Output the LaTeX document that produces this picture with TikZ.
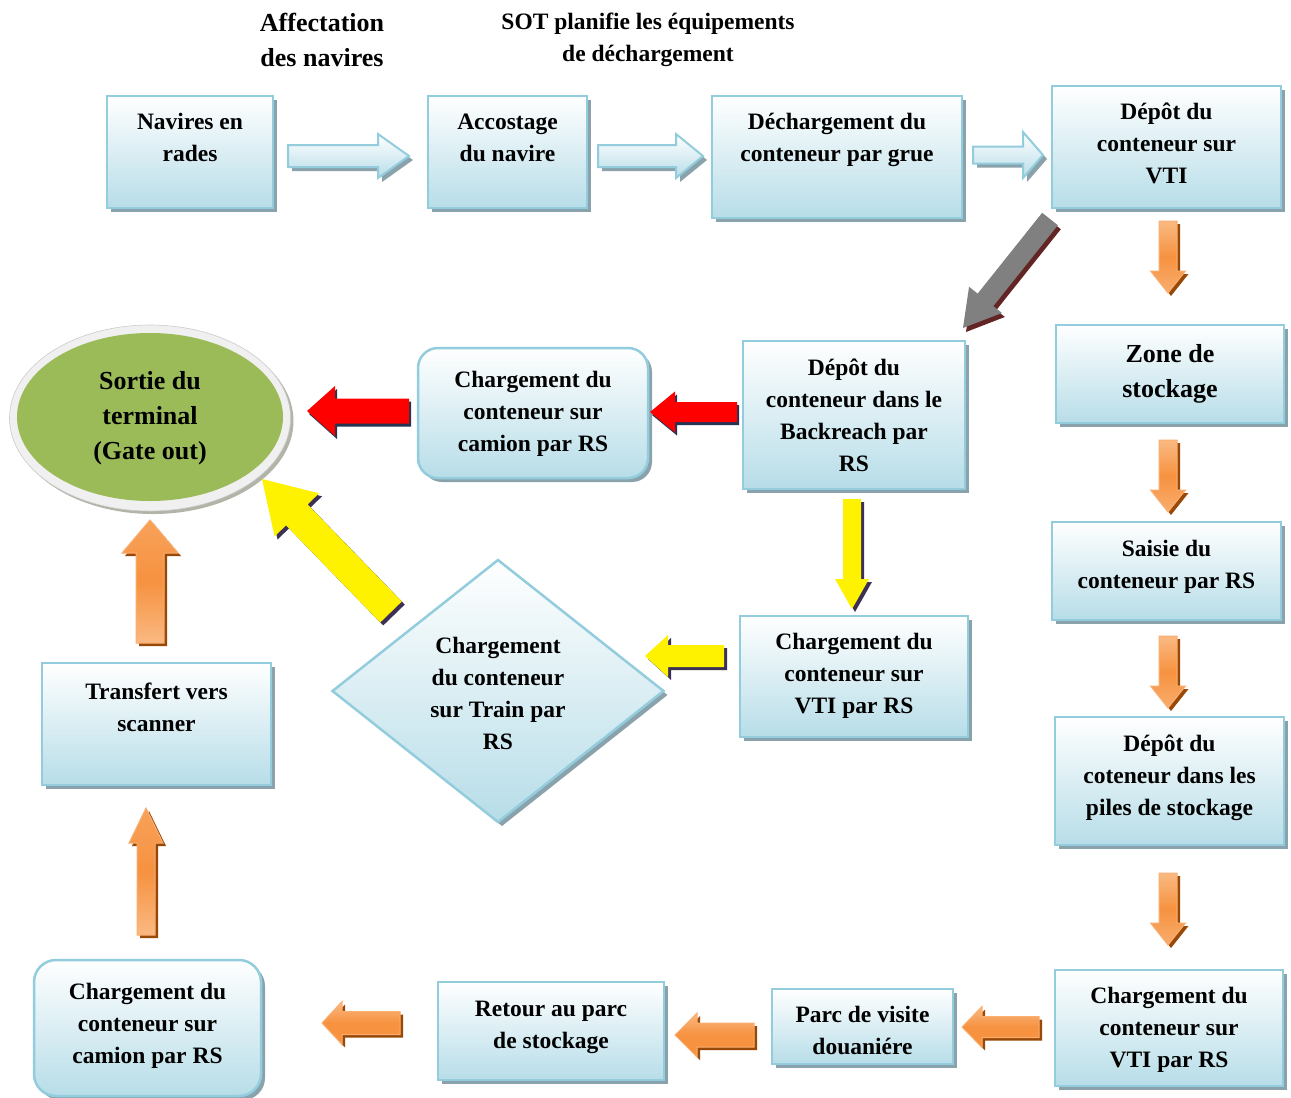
\documentclass[tikz,border=0pt]{standalone}
\usepackage{fontspec}
\setmainfont{Liberation Serif}
\usetikzlibrary{shapes.geometric,shadows,calc}

\definecolor{bxline}{RGB}{147,205,221}
\definecolor{bxfill}{RGB}{183,221,232}
\definecolor{bxshadow}{RGB}{138,162,172}
\definecolor{orM}{RGB}{246,146,64}
\definecolor{orL}{RGB}{250,185,130}
\definecolor{orLine}{RGB}{250,175,112}
\definecolor{orShadow}{RGB}{152,72,7}
\definecolor{navyShadow}{RGB}{38,52,84}
\definecolor{purpleShadow}{RGB}{60,48,86}
\definecolor{maroonShadow}{RGB}{99,37,35}
\definecolor{gateGreen}{RGB}{155,187,89}
\definecolor{ringGray}{RGB}{240,240,240}
\definecolor{ringShadow}{RGB}{178,180,168}

\tikzset{
  bx/.style={draw=bxline, line width=2.5pt, top color=white, bottom color=bxfill,
    inner sep=0pt, drop shadow={shadow xshift=4pt, shadow yshift=-4pt, fill=bxshadow, opacity=1}},
  txt/.style={font=\fontsize{23.5}{32}\selectfont\bfseries, align=center, inner sep=0pt},
  bigtxt/.style={font=\fontsize{26}{35}\selectfont\bfseries, align=center, inner sep=0pt},
  blueA/.style={draw=bxline, line width=2pt, top color=white, bottom color=bxfill},
  blueS/.style={fill=bxshadow},
  orDown/.style={draw=orLine, line width=1pt, top color=orL, bottom color=orL!70!orM, middle color=orM},
  orUp/.style={draw=orLine, line width=1pt, top color=orL!40!orM, bottom color=orL, middle color=orM},
  orLeft/.style={draw=orLine, line width=1pt, top color=orL, bottom color=orM, middle color=orM},
  orS/.style={fill=orShadow},
  redA/.style={fill=red},
  redS/.style={fill=navyShadow},
  yelA/.style={fill=yellow},
  yelS/.style={fill=purpleShadow},
  grayA/.style={fill=gray},
  grayS/.style={fill=maroonShadow},
}

% box from its corners: [options]{name}{x1}{y1}{x2}{y2}
\newcommand\flowbox[6][]{%
  \pgfmathsetmacro\fbw{#5-#3}\pgfmathsetmacro\fbh{#6-#4}%
  \node[bx,#1,minimum width=\fbw pt,minimum height=\fbh pt] (#2) at ({(#3+#5)/2},{(#4+#6)/2}) {};}

% block arrow outline: {style}{from}{to}{shaft half}{head half}{head length}{dx}{dy}
\newcommand\blockpath[8]{%
  \path[#1] let \p1=(#2), \p2=(#3), \n1={atan2(\y2-\y1,\x2-\x1)},
      \n2={veclen(\x2-\x1,\y2-\y1)} in
    [shift={(\p1)}, shift={(#7pt,-#8pt)}, rotate=\n1]
    (0pt,-#4pt) -- ({\n2-#6pt},-#4pt) -- ({\n2-#6pt},-#5pt) -- ({\n2-0pt},0pt)
    -- ({\n2-#6pt},#5pt) -- ({\n2-#6pt},#4pt) -- (0pt,#4pt) -- cycle;}
% arrow over its shadow: {style}{shadow style}{from}{to}{shaft half}{head half}{head length}{shadow dx}{shadow dy}
\newcommand\blockarrow[9]{%
  \blockpath{#2}{#3}{#4}{#5}{#6}{#7}{#8}{#9}\blockpath{#1}{#3}{#4}{#5}{#6}{#7}{0}{0}}

\begin{document}
\begin{tikzpicture}[x=1pt,y=-1pt]
\useasboundingbox (0,0) rectangle (1291,1098);
\fill[white] (0,0) rectangle (1291,1098);

% headings
\node[bigtxt] (hAff) at (322,40) {Affectation\\des navires};
\node[txt] (hSot) at (648,40) {SOT planifie les équipements\\de déchargement};

% top row
\flowbox{nav}{107}{96}{273}{208}
\node[txt] (navT) at (190,137) {Navires en\\rades};
\flowbox{acc}{428}{96}{587}{208}
\node[txt] (accT) at (507.5,138) {Accostage\\du navire};
\flowbox{dech}{712}{96}{962}{218}
\node[txt] (dechT) at (837,140) {Déchargement du\\conteneur par grue};
\flowbox{vtiA}{1052}{86}{1281}{208}
\node[txt] (vtiAT) at (1166.5,143.5) {Dépôt du\\conteneur sur\\VTI};

% right column
\flowbox{zone}{1056}{325}{1284}{423}
\node[bigtxt] (zoneT) at (1170,374) {Zone de\\stockage};
\flowbox{saisie}{1052}{522}{1281}{620}
\node[txt] (saisieT) at (1166.5,567) {Saisie du\\conteneur par RS};
\flowbox{piles}{1055}{717}{1284}{845}
\node[txt] (pilesT) at (1169.5,778) {Dépôt du\\coteneur dans les\\piles de stockage};
\flowbox{vtiC}{1055}{970}{1283}{1086}
\node[txt] (vtiCT) at (1169,1030) {Chargement du\\conteneur sur\\VTI par RS};

% bottom row
\flowbox{parc}{772}{989}{953}{1064}
\node[txt] (parcT) at (862.5,1030) {Parc de visite\\douaniére};
\flowbox{retour}{438}{982}{664}{1080}
\node[txt] (retourT) at (551,1027) {Retour au parc\\de stockage};
\flowbox[rounded corners=22pt]{camB}{34}{960}{261}{1096}
\node[txt] (camBT) at (147.5,1026) {Chargement du\\conteneur sur\\camion par RS};

% left column
\flowbox{scan}{42}{663}{271}{785}
\node[txt] (scanT) at (156.5,707) {Transfert vers\\scanner};

% middle
\flowbox{back}{743}{341}{965}{489}
\node[txt] (backT) at (854,415) {Dépôt du\\conteneur dans le\\Backreach par\\RS};
\flowbox[rounded corners=20pt]{camA}{418}{348}{648}{478}
\node[txt] (camAT) at (533,414) {Chargement du\\conteneur sur\\camion par RS};
\flowbox{vtiB}{740}{616}{968}{737}
\node[txt] (vtiBT) at (854,676) {Chargement du\\conteneur sur\\VTI par RS};
\node[bx, diamond, aspect=1.26, minimum width=332pt, minimum height=263pt] (train) at (498,691) {};
\node[txt] (trainT) at (498,693) {Chargement\\du conteneur\\sur Train par\\RS};

% terminal exit
\node[ellipse, fill=ringGray, draw=ringGray!85!black, line width=0.6pt,
  minimum width=281pt, minimum height=186pt,
  drop shadow={shadow xshift=3pt, shadow yshift=-3pt, fill=ringShadow, opacity=1}] (gateR) at (150,418) {};
\node[ellipse, fill=gateGreen, minimum width=266pt, minimum height=168pt] (gate) at (150,417) {};
\node[bigtxt] (gateT) at (150,418) {Sortie du\\terminal\\(Gate out)};

% arrow end points
\coordinate (b1s) at (288,156); \coordinate (b1e) at (409,156);
\coordinate (b2s) at (598,156); \coordinate (b2e) at (703,156);
\coordinate (b3s) at (973,155); \coordinate (b3e) at (1043,155);
\coordinate (g1s) at (1050,219); \coordinate (g1e) at (963,328);
\coordinate (o1s) at (1168,221); \coordinate (o1e) at (1168,293);
\coordinate (o2s) at (1168,440); \coordinate (o2e) at (1168,512);
\coordinate (o3s) at (1168,636); \coordinate (o3e) at (1168,708);
\coordinate (o4s) at (1168,873); \coordinate (o4e) at (1168,945);
\coordinate (o5s) at (1039,1027); \coordinate (o5e) at (962,1027);
\coordinate (o6s) at (754,1035); \coordinate (o6e) at (675,1035);
\coordinate (o7s) at (400,1023); \coordinate (o7e) at (322,1023);
\coordinate (o8s) at (146,935); \coordinate (o8e) at (146,808);
\coordinate (o9s) at (150,643); \coordinate (o9e) at (150,520);
\coordinate (r1s) at (737,412); \coordinate (r1e) at (650,412);
\coordinate (r2s) at (409,411); \coordinate (r2e) at (307,411);
\coordinate (y1s) at (852,499); \coordinate (y1e) at (852,609);
\coordinate (y2s) at (724,656); \coordinate (y2e) at (645,656);
\coordinate (y3s) at (391,612); \coordinate (y3e) at (262,479);

% arrows
\blockarrow{blueA}{blueS}{b1s}{b1e}{11}{22}{31}{4}{4}
\blockarrow{blueA}{blueS}{b2s}{b2e}{11}{22}{27}{4}{4}
\blockarrow{blueA}{blueS}{b3s}{b3e}{8.5}{23}{20}{4}{4}
\blockarrow{grayA}{grayS}{g1s}{g1e}{10}{21}{36}{3}{4}
\blockarrow{orDown}{orS}{o1s}{o1e}{9}{17.5}{22}{3}{3}
\blockarrow{orDown}{orS}{o2s}{o2e}{9}{17.5}{22}{3}{3}
\blockarrow{orDown}{orS}{o3s}{o3e}{9}{17.5}{22}{3}{3}
\blockarrow{orDown}{orS}{o4s}{o4e}{9}{17.5}{22}{3}{3}
\blockarrow{orLeft}{orS}{o5s}{o5e}{10.5}{20.5}{20}{3}{3}
\blockarrow{orLeft}{orS}{o6s}{o6e}{12}{22}{22}{3}{3}
\blockarrow{orLeft}{orS}{o7s}{o7e}{11.5}{21.5}{20}{3}{3}
\blockarrow{orUp}{orS}{o8s}{o8e}{9}{17}{35}{3}{3}
\blockarrow{orUp}{orS}{o9s}{o9e}{14}{28}{33}{3}{3}
\blockarrow{redA}{redS}{r1s}{r1e}{10}{20.5}{25}{2}{3}
\blockarrow{redA}{redS}{r2s}{r2e}{12.5}{25}{28}{2}{3}
\blockarrow{yelA}{yelS}{y1s}{y1e}{9}{17}{30}{3}{3}
\blockarrow{yelA}{yelS}{y2s}{y2e}{11}{21}{23}{3}{3}
\blockarrow{yelA}{yelS}{y3s}{y3e}{15}{31}{50}{3}{3}
\end{tikzpicture}
\end{document}
